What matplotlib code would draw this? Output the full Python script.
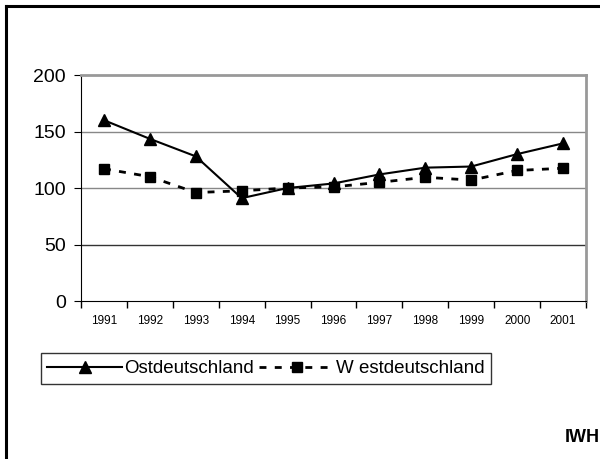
import matplotlib.pyplot as plt
from matplotlib.lines import Line2D

plt.rcParams['font.family'] = ['Liberation Sans', 'DejaVu Sans']

years = ['1991', '1992', '1993', '1994', '1995', '1996', '1997', '1998', '1999', '2000', '2001']
ost = [160, 143.5, 128, 91, 100, 104, 112, 118, 119, 130, 139.5]
west = [117, 110, 96, 97.5, 100, 101, 105, 109.5, 107, 115.5, 117.5]

fig = plt.figure(figsize=(6, 4.59), dpi=100)
ax = fig.add_axes([81 / 600, 1 - 301 / 459, 505 / 600, 226 / 459])

x = list(range(len(years)))
ax.plot(x, ost, color='black', lw=1.5, marker='^', ms=8, label='Ostdeutschland')
ax.plot(x, west, color='black', lw=2, ls=(0, (2.5, 3)), marker='s', ms=7,
        label='W estdeutschland')

ax.set_ylim(0, 200)
ax.set_xlim(-0.5, len(years) - 0.5)
ax.set_yticks([0, 50, 100, 150, 200])
for v, c in [(50, '#333333'), (100, '#888888'), (150, '#888888')]:
    ax.axhline(v, color=c, lw=1, zorder=0)

ax.set_xticks(x)
ax.set_xticklabels(years, fontsize=8.5)
ax.set_xticks([i - 0.5 for i in range(len(years) + 1)], minor=True)
ax.tick_params(axis='x', which='major', length=0, pad=10)
ax.tick_params(axis='x', which='minor', length=5, direction='out', width=1)
ax.tick_params(axis='y', length=5, direction='out', labelsize=14, pad=6)

ax.spines['left'].set_color('black')
ax.spines['bottom'].set_color('black')
ax.spines['top'].set_color('#999999')
ax.spines['right'].set_color('#999999')
ax.spines['top'].set_linewidth(2)
ax.spines['right'].set_linewidth(2)

leg = fig.legend(loc='center', bbox_to_anchor=(266 / 600, 1 - 368.5 / 459), ncol=2,
                 fontsize=13.5, frameon=True, fancybox=False, handlelength=4,
                 columnspacing=0.3, handletextpad=0.1, borderpad=0.35, edgecolor='black')
leg.get_frame().set_linewidth(1)

# outer frame (only top and left edges visible)
fig.add_artist(Line2D([6 / 600, 6 / 600], [0, 1 - 6 / 459], color='black', lw=2.2))
fig.add_artist(Line2D([6 / 600, 1], [1 - 6 / 459, 1 - 6 / 459], color='black', lw=2.2))

fig.text(600 / 600, 1 - 438 / 459, 'IWH', fontsize=13, fontweight='bold',
         ha='right', va='center')

fig.savefig('out.png', dpi=100)
